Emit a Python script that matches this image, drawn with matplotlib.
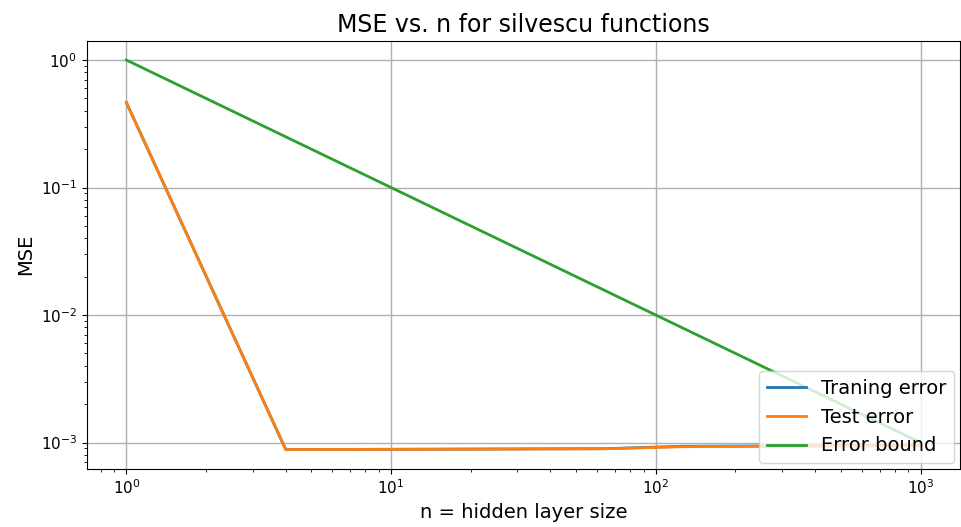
import matplotlib
matplotlib.use("Agg")
import matplotlib.pyplot as plt

# hidden layer sizes and errors
n_values = [1, 4, 16, 64, 128, 256, 512, 1000]
train_error = [0.464, 0.000881, 0.000887, 0.000895, 0.000935, 0.000940, 0.000944, 0.000948]
test_error = [0.464, 0.000881, 0.000887, 0.000893, 0.000928, 0.000934, 0.000940, 0.000945]
error_bound = [1.0 / n for n in n_values]

fig = plt.figure(figsize=(9.61, 5.27), dpi=100)
ax = fig.add_axes([0.0902, 0.110, 0.909, 0.813])

ax.plot(n_values, train_error, label="Traning error", linewidth=2)
ax.plot(n_values, test_error, label="Test error", linewidth=2)
ax.plot(n_values, error_bound, label="Error bound", linewidth=2)

ax.set_xscale("log")
ax.set_yscale("log")
ax.grid(True, which="major", color="#b0b0b0", linewidth=1.0)
ax.set_axisbelow(True)

ax.set_title("MSE vs. n for silvescu functions", fontsize=17)
ax.set_xlabel("n = hidden layer size", fontsize=14)
ax.set_ylabel("MSE", fontsize=14)
ax.tick_params(labelsize=11)
ax.legend(loc="lower right", fontsize=14, borderaxespad=0.3)

fig.savefig("out.png", dpi=100)
